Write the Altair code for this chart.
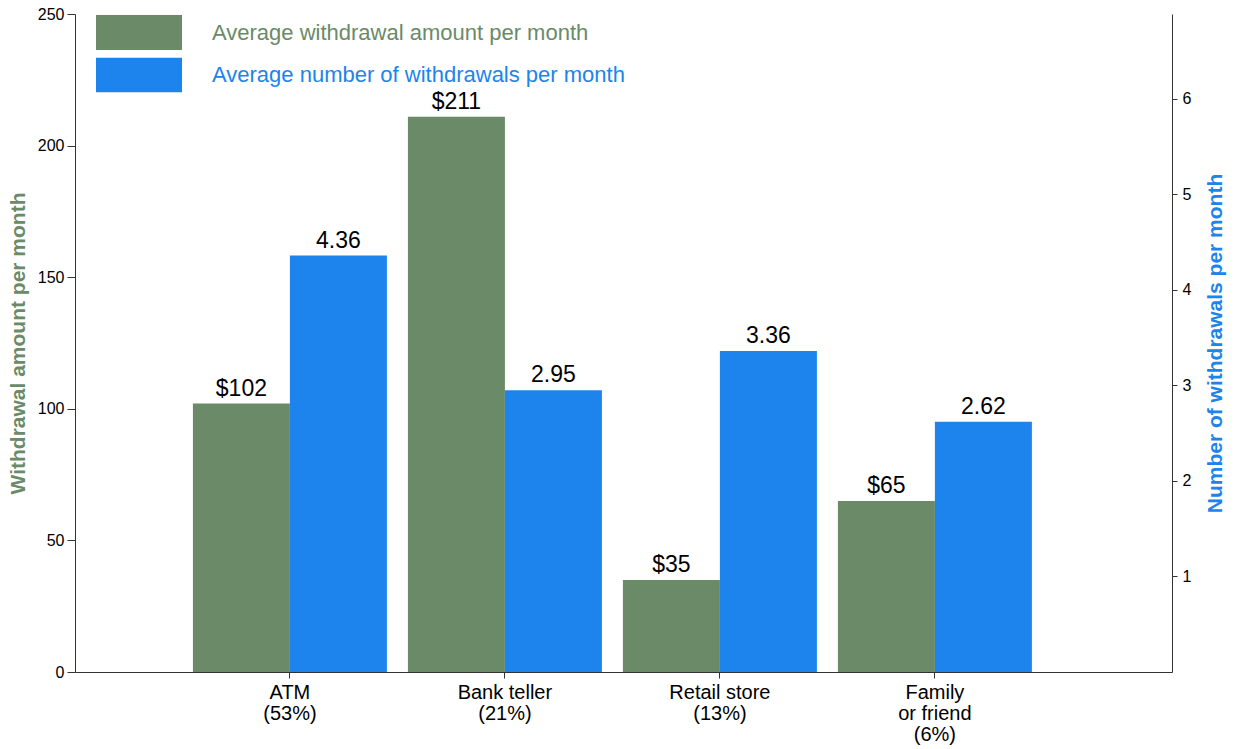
import altair as alt
import pandas as pd

# ---- data ----
categories = ["ATM|(53%)", "Bank teller|(21%)", "Retail store|(13%)", "Family|or friend|(6%)"]
amounts = [102, 211, 35, 65]
counts = [4.36, 2.95, 3.36, 2.62]
series = ["Average withdrawal amount per month", "Average number of withdrawals per month"]
left_ticks = [0, 50, 100, 150, 200, 250]
right_ticks = [1, 2, 3, 4, 5, 6]

GREEN = "#6a8a68"
BLUE = "#1c84ec"
FONT = "Liberation Sans"

df_amount = pd.DataFrame({
    "cat": categories,
    "series": series[0],
    "value": amounts,
    "txt": [f"${v}" for v in amounts],
})
df_count = pd.DataFrame({
    "cat": categories,
    "series": series[1],
    "value": counts,
    "txt": [f"{v:.2f}" for v in counts],
})

x_enc = alt.X(
    "cat:N",
    sort=categories,
    scale=alt.Scale(paddingInner=0.0977, paddingOuter=0.6, align=0.457),
    axis=alt.Axis(
        title=None,
        labelExpr="split(datum.label, '|')",
        labelFontSize=20,
        labelLineHeight=21,
        labelAngle=0,
        labelColor="black",
        labelPadding=4,
        tickSize=6,
        tickColor="#333333",
        domainColor="#333333",
    ),
)
xoff_enc = alt.XOffset("series:N", sort=series, scale=alt.Scale(domain=series, paddingInner=0))
legend = alt.Legend(
    title=None,
    orient="none",
    legendX=21,
    legendY=1,
    direction="vertical",
    symbolType="M-1,-0.407H1V0.407H-1Z",
    symbolSize=7396,
    symbolStrokeWidth=0,
    symbolOpacity=1,
    clipHeight=35,
    rowPadding=7.5,
    labelFontSize=22,
    labelOffset=30,
    labelLimit=0,
    padding=0,
    labelColor=alt.ExprRef(expr=f"datum.label == '{series[0]}' ? '{GREEN}' : '{BLUE}'"),
)
color_enc = alt.Color("series:N", scale=alt.Scale(domain=series, range=[GREEN, BLUE]), legend=legend)

y_left = alt.Y(
    "value:Q",
    scale=alt.Scale(domain=[0, 250], nice=False),
    axis=alt.Axis(
        orient="left",
        values=left_ticks,
        grid=False,
        title="Withdrawal amount per month",
        titleColor=GREEN,
        titleFontSize=21,
        titleFontWeight="bold",
        titlePadding=9,
        labelFontSize=16,
        labelColor="black",
        labelPadding=3,
        tickSize=8,
        tickColor="#333333",
        domainColor="#333333",
    ),
)
y_right = alt.Y(
    "value:Q",
    scale=alt.Scale(domain=[0, 6.89], nice=False),
    axis=alt.Axis(
        orient="right",
        values=right_ticks,
        grid=False,
        title="Number of withdrawals per month",
        titleColor=BLUE,
        titleFontSize=21,
        titleFontWeight="bold",
        titleAngle=270,
        titleBaseline="top",
        titlePadding=14,
        labelFontSize=16,
        labelColor="black",
        labelPadding=5,
        tickSize=5,
        tickColor="#333333",
        domainColor="#333333",
    ),
)

amount_base = alt.Chart(df_amount).encode(x=x_enc, xOffset=xoff_enc)
amount_layer = alt.layer(
    amount_base.mark_bar().encode(y=y_left, color=color_enc),
    amount_base.mark_text(baseline="bottom", dy=-3, fontSize=23, color="black").encode(y=y_left, text="txt:N"),
)

count_base = alt.Chart(df_count).encode(x=x_enc, xOffset=xoff_enc)
count_layer = alt.layer(
    count_base.mark_bar().encode(y=y_right, color=color_enc),
    count_base.mark_text(baseline="bottom", dy=-3, fontSize=23, color="black").encode(y=y_right, text="txt:N"),
)

chart = (
    alt.layer(amount_layer, count_layer)
    .resolve_scale(y="independent")
    .properties(
        width=1097,
        height=658,
        autosize=alt.AutoSizeParams(type="none"),
        padding={"left": 75, "top": 14, "right": 63, "bottom": 77},
        background="white",
    )
    .configure(font=FONT)
    .configure_view(stroke=None)
)

chart.save("out.html", embed_options={"renderer": "svg", "actions": False})
